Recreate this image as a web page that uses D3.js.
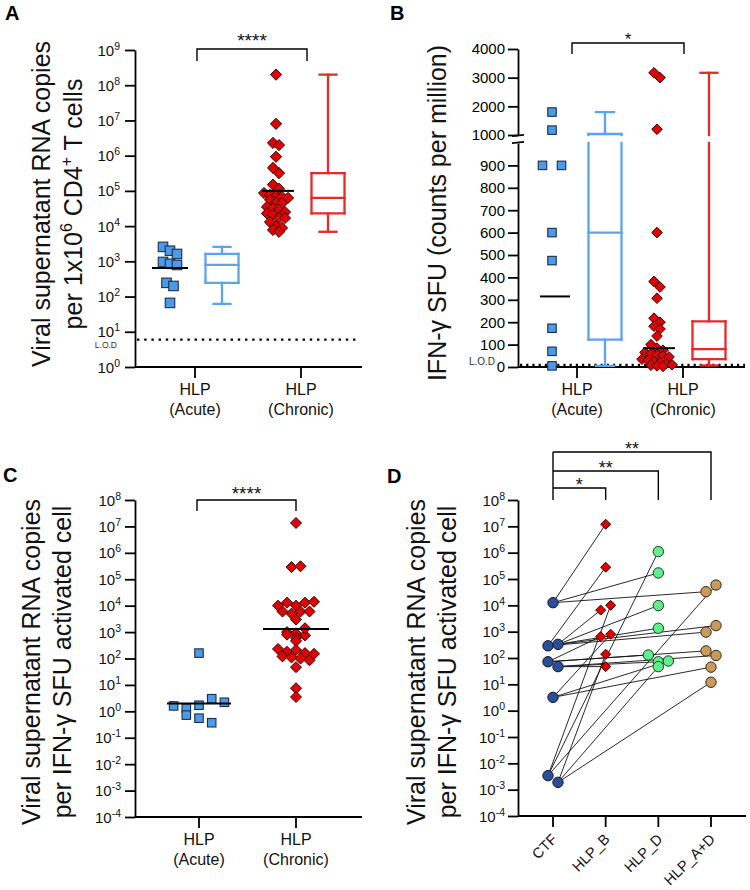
<!DOCTYPE html>
<html><head><meta charset="utf-8">
<script src="https://cdn.jsdelivr.net/npm/d3@7"></script>
<style>body{margin:0;background:#fff} svg{display:block} text{font-family:Arial,"Liberation Sans",Helvetica,sans-serif}</style>
</head><body><svg id="c" width="750" height="890"></svg>
<script>
// ================= DATA =================
const categories = ["HLP (Acute)", "HLP (Chronic)"];
const categoryLines = [["HLP", "(Acute)"], ["HLP", "(Chronic)"]];

// Panel A: viral RNA copies per 1x10^6 CD4+ T cells
const aAcute = [2570, 2000, 1620, 960, 850, 790, 245, 200, 66];
const aChronic = [2.0e8, 8.0e6, 2.3e6, 2.0e6, 9.3e5, 4.5e5, 3.2e5, 1.5e5, 1.15e5, 8.7e4, 7.7e4, 7.1e4, 6.7e4, 6.3e4, 5.6e4,
                  4.6e4, 4.5e4, 3.5e4, 3.2e4, 2.9e4, 2.5e4, 2.3e4, 2.1e4, 1.7e4, 1.7e4, 1.3e4, 1.0e4, 8.9e3, 7.8e3, 6.9e3];
const aGeoMean = [650, 1.0e5];
const aBoxAcute = [62, 245, 790, 1620, 2570];          // min, Q1, median, Q3, max
const aBoxChronic = [6900, 23000, 63000, 320000, 2.0e8];
const aLOD = 6;
const aExponents = [0, 1, 2, 3, 4, 5, 6, 7, 8, 9];
const aSig = "****";

// Panel B: IFN-γ SFU (counts per million)
const bAcute = [1800, 1170, 900, 900, 600, 475, 173, 70, 5];
const bChronic = [3170, 3000, 1200, 600, 382, 357, 307, 218, 200, 182, 170, 138, 100, 84, 75, 65, 60, 55, 50, 45,
                  35, 30, 25, 20, 15, 10, 8, 5, 3];
const bGeoMean = [315, 84];
const bBoxAcute = [5, 122, 600, 1035, 1800];
const bBoxChronic = [7, 35, 80, 204, 3170];
const bTicksLower = [0, 100, 200, 300, 400, 500, 600, 700, 800, 900];
const bTicksUpper = [1000, 2000, 3000, 4000];
const bBreak = 1000;
const bLOD = 3;
const bSig = "*";

// Panel C: viral RNA copies per IFN-γ SFU activated cell
const cAcute = [160, 1.6, 1.3, 1.7, 3.0, 2.2, 0.72, 0.55, 0.37];
const cChronic = [1.35e7, 2.9e5, 3.1e5, 1.0e4, 1.3e4, 1.0e4, 1.3e4, 1.4e4, 6.0e3, 5.0e3, 6.0e3, 6.0e3, 3.0e3,
                  1.0e3, 900, 800, 600, 750, 460, 1400, 230, 180, 210, 160, 150, 120, 110, 100, 85, 47, 7.5, 3.5];
const cGeoMean = [2.0, 1300];
const cExponents = [-4, -3, -2, -1, 0, 1, 2, 3, 4, 5, 6, 7, 8];
const cSig = "****";

// Panel D: paired donors (same index = same donor)
const dGroups = ["CTF", "HLP_B", "HLP_D", "HLP_A+D"];
const dCTF   = [1.26e4, 290, 330, 72, 47, 3.2, 3.4e-3, 1.9e-3];
const dHLP_B = [1.2e7, 2.8e5, 6.6e3, 650, 47, 800, 1.0e4, 140];
const dHLP_D = [1.7e5, 1350, 9.8e3, 130, 72, 77, 1.1e6, 47];
const dHLP_AD = [3.3e4, 960, 1700, 186, 125, 45, 5.9e4, 12];
const dSig = ["*", "**", "**"];   // CTF vs HLP_B, HLP_D, HLP_A+D

// ================= HELPERS =================
const svg = d3.select("#c");
svg.append("rect").attr("width", 750).attr("height", 890).attr("fill", "#fff");
const AXW = 1.8;
const blueFill = "#4d9be6", blueEdge = "#1a2d4d", blueBox = "#5aa4ec";
const redFill = "#dd0505", redEdge = "#3a0000", redBox = "#e52a2a";

function swarmX(vals, y, cx, binH, step) {
  const idx = vals.map((v, i) => i).sort((a, b) => y(vals[a]) - y(vals[b]));
  const xs = new Array(vals.length);
  let bin = [], start = null;
  const flush = () => {
    const s = bin.slice().sort((a, b) => a - b);
    s.forEach((i, k) => xs[i] = cx + (k - (s.length - 1) / 2) * step);
    bin = [];
  };
  idx.forEach(i => {
    const py = y(vals[i]);
    if (start === null || py - start >= binH) { if (bin.length) flush(); start = py; }
    bin.push(i);
  });
  if (bin.length) flush();
  return xs;
}
function squares(g, vals, xs, y, s) {
  g.selectAll(null).data(vals).join("rect")
    .attr("x", (d, i) => xs[i] - s / 2).attr("y", d => y(d) - s / 2)
    .attr("width", s).attr("height", s)
    .attr("fill", blueFill).attr("stroke", blueEdge).attr("stroke-width", 1.1);
}
function diamonds(g, vals, xs, y, r, fill = redFill, edge = redEdge) {
  g.selectAll(null).data(vals).join("path")
    .attr("d", (d, i) => { const cx = xs[i], cy = y(d); return `M${cx},${cy - r}L${cx + r},${cy}L${cx},${cy + r}L${cx - r},${cy}Z`; })
    .attr("fill", fill).attr("stroke", edge).attr("stroke-width", 1);
}
function styleAxis(a) {
  a.select(".domain").attr("stroke-width", AXW).attr("stroke", "#000");
  a.selectAll(".tick line").attr("stroke-width", AXW).attr("stroke", "#000");
  a.attr("font-size", 15).attr("font-family", "Arial, 'Liberation Sans', sans-serif");
  a.selectAll(".tick text").attr("fill", "#000");
}
function logYAxis(g, y, axX, exps, gap) {
  const ax = d3.axisLeft(y).tickValues(exps.map(e => Math.pow(10, e))).tickSize(10).tickSizeOuter(0).tickFormat("");
  const a = g.append("g").attr("transform", `translate(${axX},0)`).call(ax);
  styleAxis(a);
  exps.forEach(e => {
    const t = g.append("text").attr("x", axX - gap).attr("y", y(Math.pow(10, e)) + 5.5)
      .attr("text-anchor", "end").attr("font-size", 15).attr("fill", "#111");
    t.append("tspan").text("10");
    t.append("tspan").attr("dy", -6).attr("font-size", 10.5).text(e);
  });
}
function xAxis(g, x, axX, axR, axB, doms) {
  g.append("line").attr("x1", axX).attr("x2", axR).attr("y1", axB).attr("y2", axB)
    .attr("stroke", "#000").attr("stroke-width", AXW);
  g.selectAll(null).data(doms).join("line")
    .attr("x1", d => x(d)).attr("x2", d => x(d)).attr("y1", axB).attr("y2", axB + 11)
    .attr("stroke", "#000").attr("stroke-width", AXW);
}
function catLabels(g, x, axB) {
  categories.forEach((c, i) => {
    categoryLines[i].forEach((l, k) => {
      g.append("text").attr("x", x(c)).attr("y", axB + 28 + k * 20).attr("text-anchor", "middle")
        .attr("font-size", 16).attr("fill", "#111").text(l);
    });
  });
}
function meanLine(g, cx, v, y, w) {
  g.append("line").attr("x1", cx - w / 2).attr("x2", cx + w / 2).attr("y1", y(v)).attr("y2", y(v))
    .attr("stroke", "#000").attr("stroke-width", 2);
}
function box(g, cx, st, y, segs, color, w, cw) {
  const [mn, q1, med, q3, mx] = st;
  const L = (x1, y1, x2, y2) => g.append("line").attr("x1", x1).attr("x2", x2).attr("y1", y1).attr("y2", y2)
    .attr("stroke", color).attr("stroke-width", 2.3).attr("stroke-linecap", "square");
  segs(q1, q3).forEach(([a, b]) => { L(cx - w / 2, a, cx - w / 2, b); L(cx + w / 2, a, cx + w / 2, b); });
  [q1, med, q3].forEach(v => L(cx - w / 2, y(v), cx + w / 2, y(v)));
  segs(mn, q1).forEach(([a, b]) => L(cx, a, cx, b));
  segs(q3, mx).forEach(([a, b]) => L(cx, a, cx, b));
  L(cx - cw / 2, y(mn), cx + cw / 2, y(mn));
  L(cx - cw / 2, y(mx), cx + cw / 2, y(mx));
}
function bracket(g, x1, x2, top, bot, label, fs, base) {
  g.append("path").attr("d", `M${x1},${bot}V${top}H${x2}V${bot}`).attr("fill", "none")
    .attr("stroke", "#000").attr("stroke-width", 1.4);
  g.append("text").attr("x", (x1 + x2) / 2).attr("y", base).attr("text-anchor", "middle")
    .attr("font-size", fs).attr("fill", "#111").text(label);
}
function panelLetter(x, y, t) {
  svg.append("text").attr("x", x).attr("y", y).attr("font-size", 20).attr("font-weight", "bold").text(t);
}
function yTitle(g, xb, yc, build) {
  const t = g.append("text").attr("transform", `translate(${xb},${yc}) rotate(-90)`)
    .attr("text-anchor", "middle").attr("font-size", 25).attr("fill", "#111");
  build(t);
}
const logSegs = y => (a, b) => [[y(a), y(b)]];

// ================= PANEL A =================
{
  const g = svg.append("g");
  const axX = 135, axR = 362, axB = 367;
  const y = d3.scaleLog().domain([1, 1e9]).range([367, 50]);
  const x = d3.scalePoint().domain(categories).range([195, 301]);
  panelLetter(5, 20, "A");
  yTitle(g, 50, 204, t => t.text("Viral supernatant RNA copies"));
  yTitle(g, 82, 204, t => {
    t.append("tspan").text("per 1x10");
    t.append("tspan").attr("font-size", 16).attr("dy", -10).text("6");
    t.append("tspan").attr("dy", 10).text(" CD4");
    t.append("tspan").attr("font-size", 16).attr("dy", -10).text("+");
    t.append("tspan").attr("dy", 10).text(" T cells");
  });
  logYAxis(g, y, axX, aExponents, 15);
  xAxis(g, x, axX, axR, axB, categories);
  catLabels(g, x, axB);
  g.append("line").attr("x1", axX + 2).attr("x2", axR - 2).attr("y1", y(aLOD)).attr("y2", y(aLOD))
    .attr("stroke", "#000").attr("stroke-width", 2.4).attr("stroke-dasharray", "2.4,4.8");
  g.append("text").attr("x", 117).attr("y", y(aLOD) + 8.5).attr("text-anchor", "end").attr("font-size", 8.5).attr("fill", "#333").text("L.O.D");
  const sx = [x(categories[0]) - 25, x(categories[1]) - 25];
  const bx = [x(categories[0]) + 27, x(categories[1]) + 27];
  squares(g, aAcute, swarmX(aAcute, y, sx[0], 8, 7), y, 9.5);
  diamonds(g, aChronic, swarmX(aChronic, y, sx[1], 6, 6), y, 5.6);
  meanLine(g, sx[0], aGeoMean[0], y, 36);
  meanLine(g, sx[1] + 2, aGeoMean[1], y, 32);
  box(g, bx[0], aBoxAcute, y, logSegs(y), blueBox, 33, 17);
  box(g, bx[1], aBoxChronic, y, logSegs(y), redBox, 33, 17);
  bracket(g, x(categories[0]) + 2, x(categories[1]) + 6, 49, 61, aSig, 19, 47);
}

// ================= PANEL B =================
{
  const g = svg.append("g");
  const axX = 518, axR = 745, axB = 367;
  const yLow = d3.scaleLinear().domain([0, bBreak]).range([367, 143]);
  const yUp = d3.scaleLinear().domain([bBreak, 4000]).range([135, 49]);
  const y = v => v > bBreak ? yUp(v) : yLow(v);
  const segs = (a, b) => {
    const lo = Math.min(a, b), hi = Math.max(a, b);
    if (hi <= bBreak) return [[yLow(lo), yLow(hi)]];
    if (lo >= bBreak) return [[yUp(lo), yUp(hi)]];
    return [[yLow(lo), yLow(bBreak)], [yUp(bBreak), yUp(hi)]];
  };
  const x = d3.scalePoint().domain(categories).range([577, 683]);
  panelLetter(390, 20, "B");
  yTitle(g, 446, 213, t => t.text("IFN-γ SFU (counts per million)"));
  const a1 = g.append("g").attr("transform", `translate(${axX},0)`)
    .call(d3.axisLeft(yLow).tickValues(bTicksLower).tickSize(10).tickSizeOuter(0).tickFormat(d3.format("d")));
  const a2 = g.append("g").attr("transform", `translate(${axX},0)`)
    .call(d3.axisLeft(yUp).tickValues(bTicksUpper).tickSize(10).tickSizeOuter(0).tickFormat(d3.format("d")));
  styleAxis(a1); styleAxis(a2);
  [yUp(bBreak) + 0.5, yLow(bBreak) - 0.5].forEach(yy =>
    g.append("line").attr("x1", axX - 6).attr("x2", axX + 6).attr("y1", yy + 0.6).attr("y2", yy - 0.6)
      .attr("stroke", "#000").attr("stroke-width", 1.6));
  xAxis(g, x, axX, axR, axB, categories);
  catLabels(g, x, axB);
  g.append("line").attr("x1", axX + 2).attr("x2", axR).attr("y1", y(bLOD) - 1.5).attr("y2", y(bLOD) - 1.5)
    .attr("stroke", "#000").attr("stroke-width", 2.2).attr("stroke-dasharray", "2.2,4");
  g.append("text").attr("x", 495).attr("y", 365).attr("text-anchor", "end").attr("font-size", 10).attr("fill", "#333").text("L.O.D");
  const sx = [x(categories[0]) - 25, x(categories[1]) - 26];
  const bx = [x(categories[0]) + 28, x(categories[1]) + 26];
  squares(g, bAcute, swarmX(bAcute, y, sx[0], 6, 19), y, 8.5);
  diamonds(g, bChronic, swarmX(bChronic, y, sx[1], 6, 6), y, 5.3);
  meanLine(g, sx[0] + 3, bGeoMean[0], y, 30);
  meanLine(g, sx[1] + 2, bGeoMean[1], y, 32);
  box(g, bx[0], bBoxAcute, y, segs, blueBox, 33, 18);
  box(g, bx[1], bBoxChronic, y, segs, redBox, 33, 17);
  bracket(g, x(categories[0]) - 5, x(categories[1]) + 1, 43, 54, bSig, 17, 45);
}

// ================= PANEL C =================
{
  const g = svg.append("g");
  const axX = 135, axR = 362, axB = 817;
  const y = d3.scaleLog().domain([1e-4, 1e8]).range([817, 500]);
  const x = d3.scalePoint().domain(categories).range([199, 296]);
  panelLetter(3, 482, "C");
  yTitle(g, 40, 662, t => t.text("Viral supernatant RNA copies"));
  yTitle(g, 71, 662, t => t.text("per IFN-γ SFU activated cell"));
  logYAxis(g, y, axX, cExponents, 14);
  xAxis(g, x, axX, axR, axB, categories);
  catLabels(g, x, axB);
  squares(g, cAcute, swarmX(cAcute, y, x(categories[0]), 10, 12.7), y, 8.5);
  diamonds(g, cChronic, swarmX(cChronic, y, x(categories[1]), 6, 9), y, 5.5);
  meanLine(g, x(categories[0]), cGeoMean[0], y, 64);
  meanLine(g, x(categories[1]), cGeoMean[1], y, 66);
  bracket(g, x(categories[0]) - 2, x(categories[1]), 500, 511, cSig, 19, 500);
}

// ================= PANEL D =================
{
  const g = svg.append("g");
  const axX = 518, axR = 746, axB = 816;
  const y = d3.scaleLog().domain([1e-4, 1e8]).range([816, 500]);
  const x = d3.scalePoint().domain(dGroups).range([553, 711]);
  panelLetter(387, 483, "D");
  yTitle(g, 425, 662, t => t.text("Viral supernatant RNA copies"));
  yTitle(g, 456, 662, t => t.text("per IFN-γ SFU activated cell"));
  logYAxis(g, y, axX, cExponents, 13);
  xAxis(g, x, axX, axR, axB, dGroups);
  dGroups.forEach(c => g.append("text").attr("transform", `translate(${x(c) + 5},${840}) rotate(-45)`)
    .attr("text-anchor", "end").attr("font-size", 14.5).attr("fill", "#111").text(c));
  const series = [dCTF, dHLP_B, dHLP_D, dHLP_AD];
  const xs = series.map((s, k) => swarmX(s, y, x(dGroups[k]), 7, 10));
  // paired lines
  const lg = g.append("g");
  for (let k = 1; k < 4; k++) {
    series[k].forEach((v, i) => {
      lg.append("line").attr("x1", xs[0][i]).attr("y1", y(dCTF[i])).attr("x2", xs[k][i]).attr("y2", y(v))
        .attr("stroke", "#111").attr("stroke-width", 0.9);
    });
  }
  const circ = (vals, xx, fill, edge) => g.selectAll(null).data(vals).join("circle")
    .attr("cx", (d, i) => xx[i]).attr("cy", d => y(d)).attr("r", 5.2)
    .attr("fill", fill).attr("stroke", edge).attr("stroke-width", 1);
  circ(dHLP_AD, xs[3], "#c99a5e", "#3b2a14");
  circ(dHLP_D, xs[2], "#62ef8b", "#1d3a24");
  diamonds(g, dHLP_B, xs[1], y, 5, "#e00000", "#400000");
  circ(dCTF, xs[0], "#2c4e98", "#0d1830");
  // brackets
  const x0 = x(dGroups[0]);
  const tops = [488, 471, 452];
  g.append("line").attr("x1", x0).attr("x2", x0).attr("y1", tops[2]).attr("y2", 500).attr("stroke", "#000").attr("stroke-width", 1.4);
  dSig.forEach((s, k) => {
    const x2 = x(dGroups[k + 1]);
    g.append("path").attr("d", `M${x0},${tops[k]}H${x2}V500`).attr("fill", "none").attr("stroke", "#000").attr("stroke-width", 1.4);
    g.append("text").attr("x", (x0 + x2) / 2).attr("y", tops[k] + 3).attr("text-anchor", "middle")
      .attr("font-size", 18).attr("fill", "#111").text(s);
  });
}
</script></body></html>
